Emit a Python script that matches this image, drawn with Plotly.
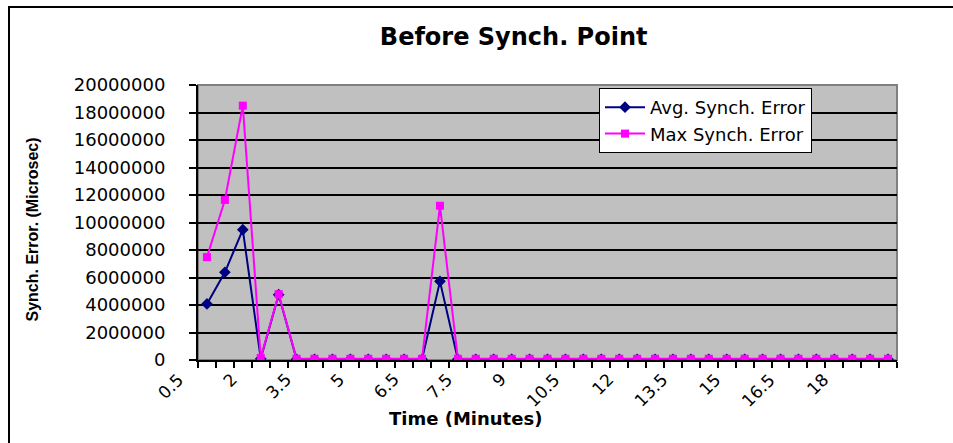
import plotly.graph_objects as go

# ---- data ----
time_labels = ["0.5", "1", "1.5", "2", "2.5", "3", "3.5", "4", "4.5", "5",
               "5.5", "6", "6.5", "7", "7.25", "7.5", "8", "8.5", "9", "9.5",
               "10", "10.5", "11", "11.5", "12", "12.5", "13", "13.5", "14", "14.5",
               "15", "15.5", "16", "16.5", "17", "17.5", "18", "18.5", "19"]
avg_error = [4080000, 6380000, 9480000, 100000, 4750000, 50000, 50000, 50000, 50000, 50000,
             50000, 50000, 50000, 5720000, 50000, 50000, 50000, 50000, 50000, 50000,
             50000, 50000, 50000, 50000, 50000, 50000, 50000, 50000, 50000, 50000,
             50000, 50000, 50000, 50000, 50000, 50000, 50000, 50000, 50000]
max_error = [7480000, 11640000, 18500000, 150000, 4790000, 90000, 90000, 90000, 90000, 90000,
             90000, 90000, 90000, 11220000, 90000, 90000, 90000, 90000, 90000, 90000,
             90000, 90000, 90000, 90000, 90000, 90000, 90000, 90000, 90000, 90000,
             90000, 90000, 90000, 90000, 90000, 90000, 90000, 90000, 90000]
label_every = 3

idx = list(range(len(time_labels)))
tick_idx = idx[::label_every]

W, H = 953, 443
L, R, T, B = 198, 56, 85, 83
pw, ph = W - L - R, H - T - B

def px_x(x):
    return (x - L) / pw

def px_y(y):
    return (H - B - y) / ph

fig = go.Figure()
fig.add_trace(go.Scatter(
    x=idx, y=avg_error, name="Avg. Synch. Error", mode="lines+markers",
    line=dict(color="#000080", width=2),
    marker=dict(symbol="diamond", size=9, color="#000080"),
))
fig.add_trace(go.Scatter(
    x=idx, y=max_error, name="Max Synch. Error", mode="lines+markers",
    line=dict(color="#FF00FF", width=2),
    marker=dict(symbol="square", size=8, color="#FF00FF"),
))

fig.update_layout(
    width=W, height=H,
    margin=dict(l=L, r=R, t=T, b=B),
    paper_bgcolor="white",
    plot_bgcolor="#C0C0C0",
    font=dict(family="DejaVu Sans", color="black"),
    title=dict(text="<b>Before Synch. Point</b>", xref="container", yref="container",
               x=0.539, y=1 - 37 / H, xanchor="center", yanchor="middle",
               font=dict(family="DejaVu Sans", size=24, color="black")),
    showlegend=True,
    legend=dict(x=px_x(599), y=px_y(88), xanchor="left", yanchor="top",
                bgcolor="white", bordercolor="black", borderwidth=1,
                font=dict(family="DejaVu Sans", size=18, color="black"),
                tracegroupgap=0, itemwidth=40),
)

fig.update_xaxes(
    range=[-0.5, len(idx) - 0.5],
    showticklabels=False,
    ticks="",
    minor=dict(tick0=-0.5, dtick=1, ticks="outside", ticklen=6, tickwidth=1.5,
               tickcolor="black", showgrid=False),
    showgrid=False, zeroline=False,
    showline=True, linecolor="black", linewidth=2,
)
fig.update_yaxes(
    range=[0, 20000000], dtick=2000000, tickformat="d",
    ticks="outside", ticklen=7, tickwidth=1.5, tickcolor="black",
    ticklabelstandoff=20,
    tickfont=dict(family="DejaVu Sans", size=18, color="black"),
    showgrid=True, gridcolor="black", gridwidth=1.5,
    zeroline=False,
    showline=True, linecolor="black", linewidth=2,
)

# rotated category labels (Excel style: end of text sits left of the category)
for i in tick_idx:
    fig.add_annotation(text=time_labels[i], xref="x", yref="paper", x=i, y=0,
                       xshift=-18, yshift=-8, xanchor="right", yanchor="top",
                       textangle=-45, showarrow=False, borderpad=0,
                       font=dict(family="DejaVu Sans", size=17, color="black"))

# plot area border (grey top/right) and outer chart border
fig.add_shape(type="rect", xref="paper", yref="paper", x0=0, x1=1, y0=0, y1=1,
              line=dict(color="#808080", width=2), layer="below")
fig.add_shape(type="rect", xref="paper", yref="paper",
              x0=px_x(9), x1=px_x(965), y0=px_y(455), y1=px_y(7),
              line=dict(color="black", width=2), layer="above")

# axis titles
fig.add_annotation(text="<b>Synch. Error. (Microsec)</b>", xref="paper", yref="paper",
                   x=px_x(32), y=px_y(229.5), textangle=-90, showarrow=False,
                   xanchor="center", yanchor="middle",
                   font=dict(family="Liberation Sans", size=16, color="black"))
fig.add_annotation(text="<b>Time (Minutes)</b>", xref="paper", yref="paper",
                   x=px_x(465), y=px_y(418), showarrow=False,
                   xanchor="center", yanchor="middle",
                   font=dict(family="DejaVu Sans", size=18, color="black"))

fig.write_html("out.html")
